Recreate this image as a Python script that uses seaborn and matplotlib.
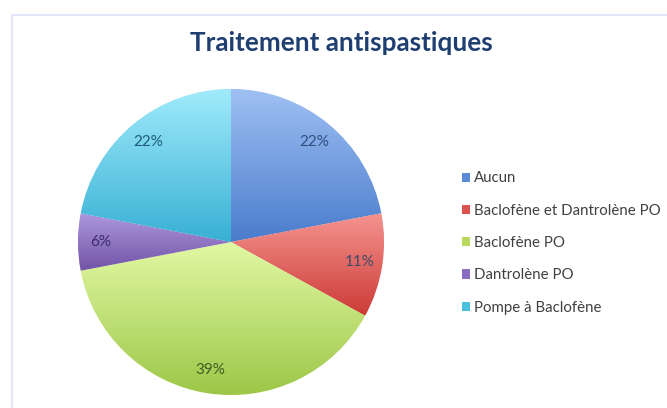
import matplotlib.pyplot as plt
import matplotlib.colors as mcolors
from matplotlib.patches import Patch, Rectangle
import numpy as np
import seaborn as sns

# Data
categories = ['Aucun', 'Baclofène et Dantrolène PO', 'Baclofène PO', 'Dantrolène PO', 'Pompe à Baclofène']
values = [22, 11, 39, 6, 22]

# Colours (legend / base, gradient light -> dark, label text)
base_colors = ['#5b8ad6', '#dc524d', '#b6d95e', '#8a6cc0', '#4cc0de']
light_colors = ['#9fc0f3', '#f59490', '#e2f8a4', '#ad97de', '#a0ebfb']
dark_colors = ['#4a7ccc', '#cc3a35', '#9cc747', '#7253a6', '#38b0d4']
label_colors = ['#2f4f7f', '#3e4a6a', '#3d5f24', '#3a2c68', '#1f5a78']

sns.set_theme(style='white')
plt.rcParams['font.family'] = ['Lato', 'DejaVu Sans']

fig = plt.figure(figsize=(6.67, 4.08), dpi=100)
fig.patch.set_facecolor('white')

# light frame around the chart area
fig.patches.append(Rectangle((12 / 667, -0.05), 1.0, 1 - 15 / 408 + 0.05,
                             transform=fig.transFigure, fill=False,
                             edgecolor='#e3e6f7', lw=1.5))

ax = fig.add_axes([78 / 667, 13 / 408, 306 / 667, 306 / 408])
wedges, texts, autotexts = ax.pie(values, colors=base_colors, startangle=90,
                                  counterclock=False, autopct='%1.0f%%',
                                  pctdistance=0.85, radius=1,
                                  wedgeprops=dict(linewidth=0.6, edgecolor='white'),
                                  textprops=dict(fontsize=11))
ax.set_aspect('equal')

# vertical gradient inside each slice
for w, lc, dc in zip(wedges, light_colors, dark_colors):
    bb = w.get_path().get_extents(w.get_transform() + ax.transData.inverted())
    cmap = mcolors.LinearSegmentedColormap.from_list('g', [dc, lc])
    grad = np.linspace(0, 1, 256).reshape(-1, 1)
    im = ax.imshow(grad, cmap=cmap, origin='lower', aspect='auto',
                   extent=[bb.x0, bb.x1, bb.y0, bb.y1], zorder=w.get_zorder() + 0.1)
    im.set_clip_path(w)
ax.set_xlim(-1, 1)
ax.set_ylim(-1, 1)

for t, c in zip(autotexts, label_colors):
    t.set_color(c)
    t.set_zorder(5)

handles = [Patch(facecolor=c, edgecolor='none') for c in base_colors]
fig.legend(handles, categories, loc='center left',
           bbox_to_anchor=(462 / 667, 1 - 243 / 408), frameon=False,
           fontsize=10.8, handlelength=0.55, handleheight=0.55,
           handletextpad=0.25, labelspacing=1.22, borderpad=0, borderaxespad=0,
           labelcolor='#404040')

fig.text(341 / 667, 1 - 43 / 408, 'Traitement antispastiques', ha='center', va='center',
         fontsize=18.8, fontweight='bold', color='#1f3f70')

fig.savefig('out.png', dpi=100)
